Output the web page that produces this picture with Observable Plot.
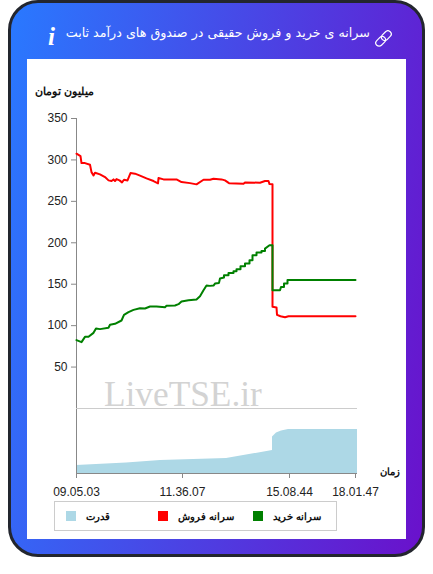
<!DOCTYPE html>
<html lang="fa"><head><meta charset="utf-8">
<script src="https://cdn.jsdelivr.net/npm/d3@7"></script>
<script src="https://cdn.jsdelivr.net/npm/@observablehq/plot@0.6"></script>
<style>
html,body{margin:0;padding:0;background:#fff;font-family:"Liberation Sans",Arial,sans-serif}
#page{position:relative;width:433px;height:574px;overflow:hidden}
#card{position:absolute;left:8px;top:0;width:417px;height:557px;box-sizing:border-box;border:3px solid #23262e;border-radius:30px;background:linear-gradient(100deg,#2979ff 0%,#6a11cb 100%)}
#panel{position:absolute;left:27px;top:59px;width:379px;height:480px;background:#fff}
#title{position:absolute;left:66px;top:22px;width:304px;text-align:center;color:#fff;font-size:12.7px;line-height:22px;direction:rtl;white-space:nowrap;font-family:"DejaVu Sans",sans-serif}
#info{position:absolute;left:48px;top:20px;color:#fff;font:italic bold 25px/34px "Liberation Serif",serif}
#link{position:absolute;left:375px;top:30px}
#charts svg{position:absolute;left:0;overflow:visible;background:transparent}
#legend{position:absolute;left:54px;top:501px;width:283px;height:30px;box-sizing:border-box;border:1px solid #ccc;background:#fff}
.sw{position:absolute;top:9px;width:10px;height:10px}
.lb{position:absolute;top:7px;font-size:10.3px;font-weight:bold;line-height:15px;color:#111;direction:rtl;white-space:nowrap}
#mark{position:absolute;left:104px;top:373px;font:35.3px/44px "Liberation Serif",serif;color:#d3d3d3}
</style></head><body>
<div id="page">
  <div id="card"></div>
  <div id="panel"></div>
  <div id="info">i</div>
  <div id="title">سرانه ی خرید و فروش حقیقی در صندوق های درآمد ثابت</div>
  <svg id="link" width="17" height="17" viewBox="0 0 17 17" fill="none" stroke="#fff" stroke-width="1.2"><g transform="rotate(-45 8.5 8.5)"><rect x="-1" y="5.2" width="11" height="6.6" rx="3.3"/><rect x="7" y="5.2" width="11" height="6.6" rx="3.3"/></g></svg>
  <div id="mark">LiveTSE.ir</div>
  <div id="charts"></div>
  <div id="legend"></div>
</div>
<script>
const sellX = [0,4,5,8.5,13.5,15,17,18.5,23.5,28.5,32,35,37,38.5,40,43,45.5,47.5,51,54,58.5,63.5,70,77,81.5,82,87,100,105,113.5,120,127,133.5,137,145,148.5,152.5,167,168.5,183.5,188.5,192,193,196,196,200,200.5,204,208.5,212,279];
const sellV = [307.5,304.6,296.2,296.2,294.2,285.3,281.3,284.6,282.5,279.3,275.3,274.5,276.5,274.5,276.9,275.3,272.9,276.1,275.3,284.1,283.4,281,277.7,274.5,271.7,278.1,276.5,276.5,273.3,272,270.5,276.1,276.1,277.3,276.5,275.3,272,271.3,272.9,272.5,274.5,274.5,270.8,270.5,122.7,122,113,111.3,110.2,111.4,111.4];
const buyX = [0,5,8.5,12,17,19.5,23.5,32,33.5,38.5,45,47.5,52,57,63.5,68.5,73.5,80,88.5,90,98.5,102,105,112,120,123.5,127,130,133.5,137,138.5,142.5,143.5,147.5,147.5,152,152,157,157,160,160,164,164,168.5,168.5,173,173,176,176,180,180,185,185,188.5,188.5,193,196,196,203.5,204.5,207.5,207.5,211,211,279];
const buyV = [82.5,80.1,86.5,86.5,91.3,96.6,95.8,97.4,101,102.2,106.2,113,116.3,119,121.1,120.7,123.1,123.1,122.3,123.9,124.3,125.9,129.2,130.7,131.6,135.5,142.8,148.4,148,148.4,150.8,151.6,156.9,158,160.8,160.8,163.6,163.6,165.7,165.7,168,168,171.7,171.7,174.9,174.9,178.9,178.9,184.9,184.9,188.2,188.2,190.1,190.1,193,197,197,142.8,142.8,146.7,146.7,150.8,150.8,155.2,155.2];
const powerX = [0,50,84,117,150,196,196,200,205,212,281];
const powerV = [8,10.5,13,14,15,23,36.5,40.5,42.5,44,44];
const xTickPos = [0,106,213,279];
const xTickLabels = ["09.05.03","11.36.07","15.08.44","18.01.47"];
const yTicks = [50,100,150,200,250,300,350];
const sellName = "سرانه فروش", buyName = "سرانه خرید", powerName = "قدرت";
const yTitle = "میلیون تومان", xTitle = "زمان";
const SELL = "#ff0000", BUY = "#008000", POWER = "#add8e6", AXIS = "#888", INK = "#222";

const pts = (xs, vs) => xs.map((x, i) => ({x, v: vs[i]}));
const xOpt = {type:"linear", domain:[0,281], axis:null};

const upper = Plot.plot({
  width:433, height:351, marginLeft:76, marginRight:76, marginTop:60, marginBottom:1,
  style:{background:"transparent",fontFamily:"'Liberation Sans',Arial,sans-serif",fontSize:"12px"},
  x:xOpt, y:{domain:[0,350], axis:null},
  marks:[
    Plot.ruleY([0],{stroke:"#ccc"}),
    Plot.ruleX([0],{stroke:AXIS}),
    Plot.axisY({ticks:yTicks, tickSize:5, tickPadding:4, stroke:AXIS, fill:INK, label:null}),
    Plot.line(pts(sellX,sellV),{x:"x",y:"v",stroke:SELL,strokeWidth:2,curve:"linear"}),
    Plot.line(pts(buyX,buyV),{x:"x",y:"v",stroke:BUY,strokeWidth:2,curve:"linear"}),
    Plot.text([yTitle],{frameAnchor:"top-left",dx:18,dy:-31,textAnchor:"end",fontWeight:"bold",fontSize:10.9,fill:"#111"})
  ]
});
upper.style.top = "58px";

const lower = Plot.plot({
  width:433, height:90, marginLeft:76, marginRight:76, marginTop:0, marginBottom:26,
  style:{background:"transparent",fontFamily:"'Liberation Sans',Arial,sans-serif",fontSize:"12px"},
  x:xOpt, y:{domain:[0,64], axis:null},
  marks:[
    Plot.areaY(pts(powerX,powerV),{x:"x",y1:0,y2:"v",fill:POWER}),
    Plot.ruleX([0],{stroke:AXIS}),
    Plot.ruleY([0],{stroke:AXIS}),
    Plot.axisX({ticks:xTickPos, tickFormat:d=>xTickLabels[xTickPos.indexOf(d)], tickSize:5, tickPadding:9, stroke:AXIS, fill:INK, label:null}),
    Plot.text([xTitle],{frameAnchor:"bottom-right",dx:42,dy:1,textAnchor:"end",fontWeight:"bold",fontSize:10.3,fill:"#111"})
  ]
});
lower.style.top = "409px";
document.getElementById("charts").append(upper, lower);

const legend = document.getElementById("legend");
[[POWER,11,powerName,31],[SELL,103,sellName,123],[BUY,198,buyName,218]].forEach(([c,sx,name,tx])=>{
  const s=document.createElement("div"); s.className="sw"; s.style.left=sx+"px"; s.style.background=c; legend.append(s);
  const t=document.createElement("div"); t.className="lb"; t.style.left=tx+"px"; t.textContent=name; legend.append(t);
});
</script>
</body></html>
